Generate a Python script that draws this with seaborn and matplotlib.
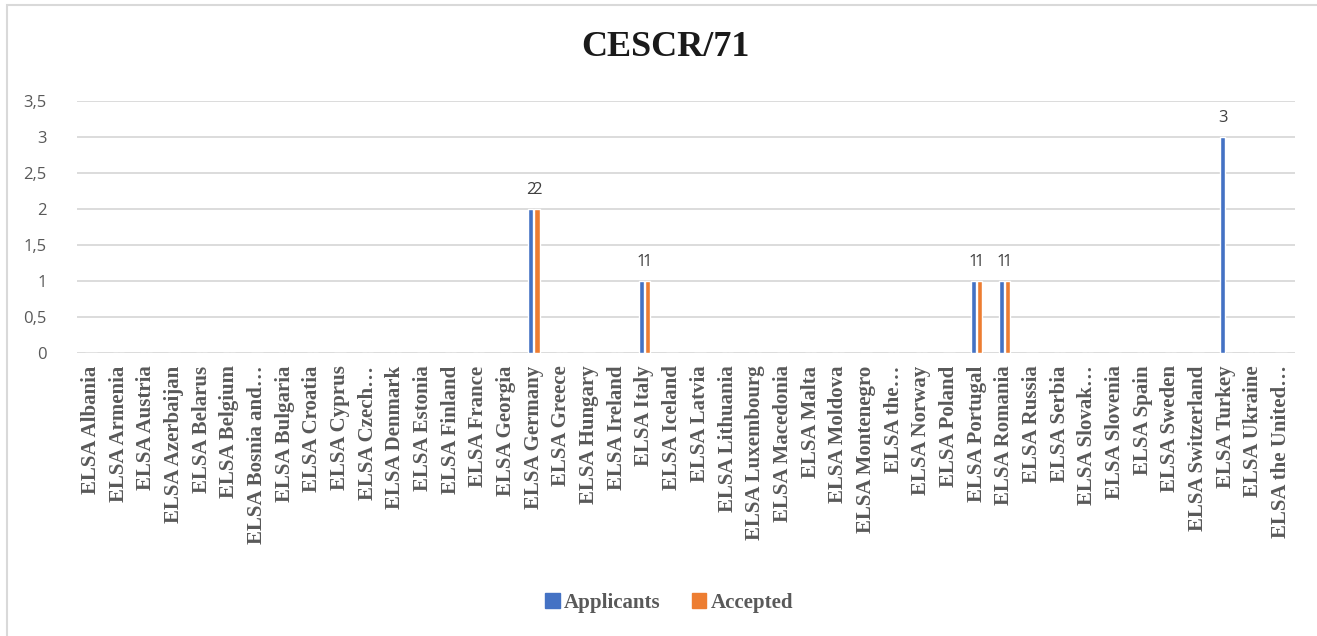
import matplotlib
matplotlib.use('Agg')
import matplotlib.pyplot as plt
import matplotlib.patches as mpatches
import seaborn as sns
import pandas as pd

# data
countries = ['Albania', 'Armenia', 'Austria', 'Azerbaijan', 'Belarus', 'Belgium',
             'Bosnia and\u2026', 'Bulgaria', 'Croatia', 'Cyprus', 'Czech\u2026', 'Denmark',
             'Estonia', 'Finland', 'France', 'Georgia', 'Germany', 'Greece', 'Hungary',
             'Ireland', 'Italy', 'Iceland', 'Latvia', 'Lithuania', 'Luxembourg',
             'Macedonia', 'Malta', 'Moldova', 'Montenegro', 'the\u2026', 'Norway', 'Poland',
             'Portugal', 'Romania', 'Russia', 'Serbia', 'Slovak\u2026', 'Slovenia', 'Spain',
             'Sweden', 'Switzerland', 'Turkey', 'Ukraine', 'the United\u2026']
categories = ['ELSA ' + c for c in countries]
applicants = [0, 0, 0, 0, 0, 0, 0, 0, 0, 0, 0, 0, 0, 0, 0, 0, 2, 0, 0, 0, 1, 0,
              0, 0, 0, 0, 0, 0, 0, 0, 0, 0, 1, 1, 0, 0, 0, 0, 0, 0, 0, 3, 0, 0]
accepted = [0, 0, 0, 0, 0, 0, 0, 0, 0, 0, 0, 0, 0, 0, 0, 0, 2, 0, 0, 0, 1, 0,
            0, 0, 0, 0, 0, 0, 0, 0, 0, 0, 1, 1, 0, 0, 0, 0, 0, 0, 0, 0, 0, 0]
series = ['Applicants', 'Accepted']
colors = ['#4472C4', '#ED7D31']

df = pd.DataFrame({
    'category': categories * 2,
    'value': applicants + accepted,
    'series': [series[0]] * len(categories) + [series[1]] * len(categories),
})

sns.set_style('white')
serif = ['Liberation Serif', 'DejaVu Serif']
sans = ['Open Sans', 'DejaVu Sans']
grey = '#595959'

fig = plt.figure(figsize=(13.17, 6.36), dpi=100)
ax = fig.add_axes([77 / 1317, 1 - 353 / 636, 1218 / 1317, 252 / 636])

sns.barplot(data=df, x='category', y='value', hue='series', palette=colors,
            width=0.44, gap=0.1, ax=ax, legend=False, saturation=1)

ax.set_ylim(0, 3.5)
ax.set_xlim(-0.5, len(categories) - 0.5)
ax.set_yticks([0, 0.5, 1, 1.5, 2, 2.5, 3, 3.5])
ax.set_yticklabels(['0', '0,5', '1', '1,5', '2', '2,5', '3', '3,5'],
                   fontsize=12, color=grey, family=sans)
ax.set_xticks(range(len(categories)))
ax.set_xticklabels(categories, rotation=90, fontsize=15, fontweight='bold',
                   color=grey, family=serif, va='top')
ax.tick_params(axis='y', length=0, pad=22)
ax.tick_params(axis='x', length=0, pad=9)
ax.set_xlabel('')
ax.set_ylabel('')
ax.grid(axis='y', color='#D9D9D9', linewidth=1.3)
ax.set_axisbelow(True)
for s in ax.spines.values():
    s.set_visible(False)

# data labels only for non-empty values
for cont, vals in zip(ax.containers, [applicants, accepted]):
    for bar, v in zip(cont, vals):
        if v > 0:
            ax.text(bar.get_x() + bar.get_width() / 2, v + 0.15, str(v),
                    ha='center', va='bottom', fontsize=12, color='#404040',
                    family=sans)

fig.text(0.505, 1 - 47 / 636, 'CESCR/71', ha='center', va='center', fontsize=26,
         fontweight='bold', family=serif, color='#1a1a1a')

handles = [mpatches.Patch(color=c, label=l) for c, l in zip(colors, series)]
leg = fig.legend(handles=handles, loc='center', bbox_to_anchor=(0.508, 1 - 603 / 636),
                 ncol=2, frameon=False, handlelength=0.7, handleheight=0.7,
                 handletextpad=0.2, columnspacing=1.5,
                 prop={'family': serif, 'weight': 'bold', 'size': 15})
for t in leg.get_texts():
    t.set_color(grey)

fig.patches.append(mpatches.Rectangle((6.5 / 1317, -0.1), 1.2, 1.1 - 5.5 / 636,
                                      transform=fig.transFigure, fill=False,
                                      edgecolor='#D9D9D9', linewidth=1.5))

fig.savefig('out.png', dpi=100)
